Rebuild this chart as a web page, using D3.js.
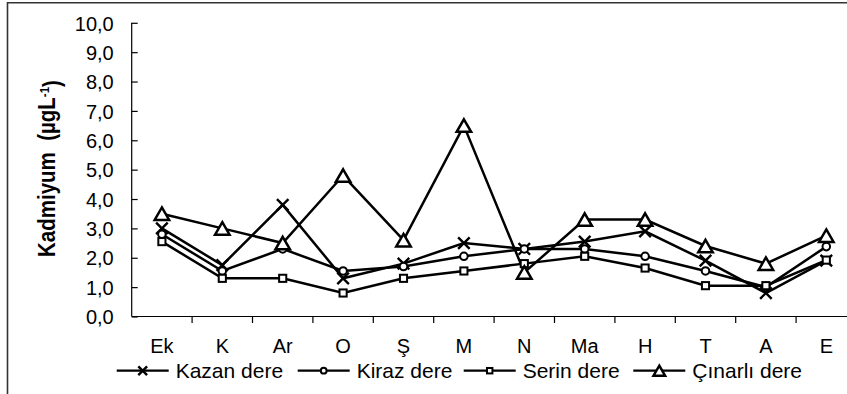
<!DOCTYPE html>
<html><head><meta charset="utf-8">
<script src="https://cdn.jsdelivr.net/npm/d3@7"></script>
<style>body{margin:0;background:#fff}svg{display:block}text{font-family:Arial,"Liberation Sans",sans-serif;fill:#000}</style>
</head><body><svg id="c" width="847" height="394"></svg>
<script>
const categories = ["Ek","K","Ar","O","Ş","M","N","Ma","H","T","A","E"];
const kazan   = [3.0,1.75,3.8,1.3,1.8,2.5,2.3,2.55,2.9,1.9,0.8,1.9];
const kiraz   = [2.8,1.55,2.3,1.55,1.7,2.05,2.3,2.3,2.05,1.55,1.0,2.38];
const serin   = [2.55,1.3,1.3,0.8,1.3,1.55,1.8,2.05,1.65,1.05,1.05,1.92];
const cinarli = [3.5,3.0,2.5,4.8,2.6,6.5,1.5,3.3,3.3,2.4,1.8,2.75];
const seriesNames = ["Kazan dere","Kiraz dere","Serin dere","Çınarlı dere"];
const seriesMarkers = ["x","circle","square","triangle"];
const yTicks = [0,1,2,3,4,5,6,7,8,9,10];

const series = [kazan,kiraz,serin,cinarli].map((v,i)=>({name:seriesNames[i],marker:seriesMarkers[i],values:v}));

const svg = d3.select("#c");
const x0 = 131.7, bandW = 60.4;
const x = d3.scaleBand().domain(categories).range([x0, x0 + bandW*categories.length]).paddingInner(0).paddingOuter(0);
const y = d3.scaleLinear().domain([0,10]).range([316.5, 22.8]);
const cx = c => x(c) + x.bandwidth()/2;

// frame
svg.append("path").attr("d","M7.5,394V2.8H847").attr("fill","none").attr("stroke","#333").attr("stroke-width",1.6);

// y axis
const yAxis = d3.axisRight(y).tickValues(yTicks).tickSize(6).tickFormat(d=>d3.format(".1f")(d).replace(".",","));
const gy = svg.append("g").attr("transform",`translate(${x0},0)`).call(yAxis);
gy.select(".domain").attr("d",`M0,${y(0)}V${y(10)}`).attr("stroke","#000").attr("stroke-width",1.2);
gy.selectAll(".tick line").attr("stroke","#000").attr("stroke-width",1.2);
gy.selectAll(".tick text").attr("x",-18).attr("dy","0.36em").attr("text-anchor","end")
  .style("font-size","20px").style("font-family","Arial, 'Liberation Sans', sans-serif").attr("fill","#000");

// x axis
const xAxis = d3.axisBottom(x).tickSize(0).tickFormat(d=>d);
const gx = svg.append("g").attr("transform",`translate(0,${y(0)})`).call(xAxis);
gx.select(".domain").attr("d",`M${x0},0H${x0 + bandW*categories.length}`).attr("stroke","#000").attr("stroke-width",1.2);
gx.selectAll(".tick text").attr("y",36.8).attr("dy",0)
  .style("font-size","20px").style("font-family","Arial, 'Liberation Sans', sans-serif").attr("fill","#000");
// boundary ticks
gx.selectAll(".bt").data(categories.slice(1).concat(["_end"])).enter().append("line")
  .attr("x1",(d,i)=>x0 + bandW*(i+1)).attr("x2",(d,i)=>x0 + bandW*(i+1))
  .attr("y1",0).attr("y2",6.5).attr("stroke","#000").attr("stroke-width",1.2);

// markers
function drawMarker(g, type, px, py, s){
  if(type==="x"){
    const h=s*0.55;
    g.append("path").attr("d",`M${px-h},${py-h}L${px+h},${py+h}M${px-h},${py+h}L${px+h},${py-h}`)
      .attr("stroke","#000").attr("stroke-width",2.4).attr("fill","none");
  } else if(type==="circle"){
    g.append("circle").attr("cx",px).attr("cy",py).attr("r",s*0.36)
      .attr("fill","#fff").attr("stroke","#000").attr("stroke-width",2);
  } else if(type==="square"){
    const h=s*0.34;
    g.append("rect").attr("x",px-h).attr("y",py-h).attr("width",2*h).attr("height",2*h)
      .attr("fill","#fff").attr("stroke","#000").attr("stroke-width",2);
  } else {
    const w=s*0.58, hh=s*0.5;
    g.append("path").attr("d",`M${px},${py-hh}L${px+w},${py+hh}L${px-w},${py+hh}Z`)
      .attr("fill","#fff").attr("stroke","#000").attr("stroke-width",2.5).attr("stroke-linejoin","miter");
  }
}

const line = d3.line().x((d,i)=>cx(categories[i])).y(d=>y(d));
const gl = svg.append("g");
series.forEach(s=>{
  gl.append("path").attr("d",line(s.values)).attr("fill","none").attr("stroke","#000").attr("stroke-width",2.5);
});
series.forEach(s=>{
  const g = gl.append("g");
  s.values.forEach((v,i)=>drawMarker(g, s.marker, cx(categories[i]), y(v), s.marker==="triangle"?12.5:10.5));
});

// legend
const legX = [116.7, 297.7, 463.7, 633.3];
const legY = 370.7;
series.forEach((s,i)=>{
  const g = svg.append("g");
  const lx = legX[i];
  g.append("line").attr("x1",lx).attr("x2",lx+52).attr("y1",legY).attr("y2",legY).attr("stroke","#000").attr("stroke-width",2.2);
  drawMarker(g, s.marker, lx+26, legY, s.marker==="triangle"?10:8);
  g.append("text").attr("x",lx+59).attr("y",378.3).style("font-size","21px").text(s.name);
});

// y title
const t = svg.append("text").attr("text-anchor","middle").style("font-size","23px").style("font-weight","bold").attr("xml:space","preserve");
t.append("tspan").text("Kadmiyum  (µgL");
t.append("tspan").attr("dy","-0.5em").style("font-size","13px").text("-1");
t.append("tspan").attr("dy","0.5em").text(")");
const len = t.node().getComputedTextLength();
const sx = 177/len;
t.attr("transform",`translate(55,168.5) rotate(-90) scale(${sx},1)`);
</script></body></html>
